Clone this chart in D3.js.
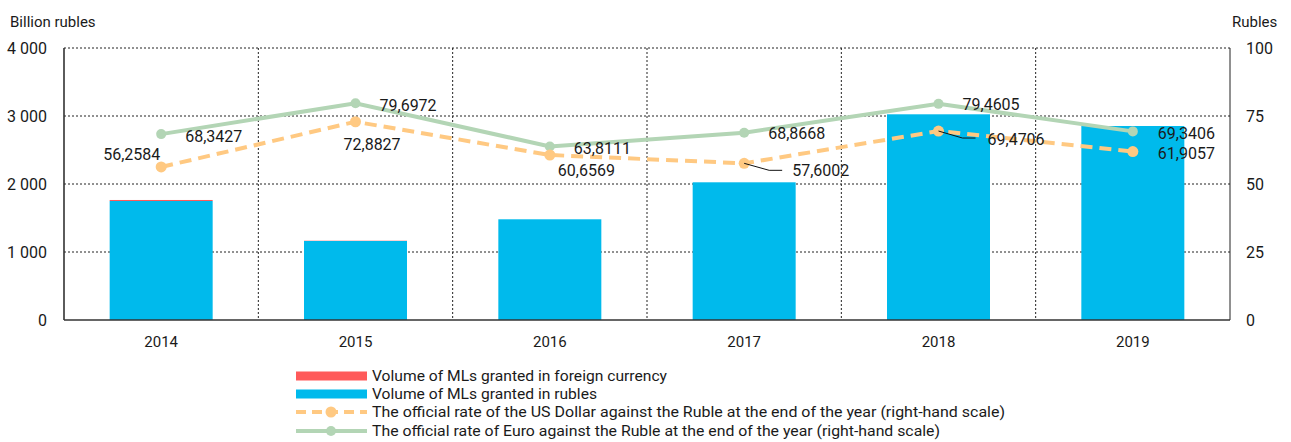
<!DOCTYPE html>
<html><head><meta charset="utf-8">
<script src="https://cdn.jsdelivr.net/npm/d3@7"></script>
<style>
body{margin:0;background:#fff;}
text{font-family:Roboto,"Noto Sans",sans-serif;fill:#1a1a1a;}
</style></head>
<body><svg id="c" width="1291" height="442"></svg>
<script>
const years = ["2014","2015","2016","2017","2018","2019"];
const rublesVol = [1750, 1162, 1481, 2025, 3025, 2853];
const foreignVol = [15, 4, 0, 0, 0, 0];
const usdRate = [56.2584, 72.8827, 60.6569, 57.6002, 69.4706, 61.9057];
const eurRate = [68.3427, 79.6972, 63.8111, 68.8668, 79.4605, 69.3406];
const usdLabels = ["56,2584","72,8827","60,6569","57,6002","69,4706","61,9057"];
const eurLabels = ["68,3427","79,6972","63,8111","68,8668","79,4605","69,3406"];
const leftTicks = [0,1000,2000,3000,4000];
const rightTicks = [0,25,50,75,100];
const legendItems = [
  "Volume of MLs granted in foreign currency",
  "Volume of MLs granted in rubles",
  "The official rate of  the US Dollar against the Ruble at the end of the year (right-hand scale)",
  "The official rate of Euro against the Ruble at the end of the year (right-hand scale)"
];

const C = {blue:"#00BAEC", red:"#FF5A5A", orange:"#FFC982", green:"#B3D5B5"};
const svg = d3.select("#c");
const L=64, R=1230, T=48, B=320;
const x = d3.scaleBand().domain(years).range([L,R]).paddingInner(0.47).paddingOuter(0.235);
const xb = d3.scaleBand().domain(years).range([L,R]);
const y = d3.scaleLinear().domain([0,4000]).range([B,T]);
const y2 = d3.scaleLinear().domain([0,100]).range([B,T]);

// grid
const g = svg.append("g");
g.selectAll("line.h").data(leftTicks.filter(d=>d>0)).join("line")
  .attr("x1",L).attr("x2",R).attr("y1",d=>y(d)).attr("y2",d=>y(d))
  .attr("stroke","#222").attr("stroke-width",1).attr("stroke-dasharray","2,2");
g.selectAll("line.v").data(years.slice(1)).join("line")
  .attr("x1",d=>xb(d)).attr("x2",d=>xb(d)).attr("y1",T).attr("y2",B)
  .attr("stroke","#222").attr("stroke-width",1).attr("stroke-dasharray","2,2");

// bars
svg.append("g").selectAll("rect").data(years).join("rect")
  .attr("x",d=>x(d)).attr("width",x.bandwidth())
  .attr("y",(d,i)=>y(rublesVol[i])).attr("height",(d,i)=>B-y(rublesVol[i]))
  .attr("fill",C.blue);
svg.append("g").selectAll("rect").data(years).join("rect")
  .attr("x",d=>x(d)).attr("width",x.bandwidth())
  .attr("y",(d,i)=>y(rublesVol[i]+foreignVol[i])).attr("height",(d,i)=>y(rublesVol[i])-y(rublesVol[i]+foreignVol[i]))
  .attr("fill",C.red);

// axes lines
svg.append("line").attr("x1",L).attr("x2",L).attr("y1",T).attr("y2",B).attr("stroke","#333").attr("stroke-width",1.6);
svg.append("line").attr("x1",R).attr("x2",R).attr("y1",T).attr("y2",B).attr("stroke","#222").attr("stroke-width",1);
svg.append("line").attr("x1",L).attr("x2",R).attr("y1",B).attr("y2",B).attr("stroke","#333").attr("stroke-width",1.6);

// axes via d3
const ax = svg.append("g").attr("transform",`translate(${L-17},0)`)
  .call(d3.axisLeft(y).tickValues(leftTicks).tickSize(0).tickFormat(d=>d3.format(",")(d).replace(",", " ")));
const ax2 = svg.append("g").attr("transform",`translate(${R+16},0)`)
  .call(d3.axisRight(y2).tickValues(rightTicks).tickSize(0));
const axb = svg.append("g").attr("transform",`translate(0,${B+22})`)
  .call(d3.axisBottom(xb).tickSize(0));
[ax,ax2,axb].forEach(a=>{a.select(".domain").remove(); a.selectAll("text").attr("font-size",16).attr("fill","#1a1a1a").style("font-family",'Roboto,"Noto Sans",sans-serif');});
ax.selectAll("text").attr("x",0);
ax2.selectAll("text").attr("x",0);
axb.selectAll("text").attr("dy","0.35em").attr("y",0).attr("font-size",15);

svg.append("text").attr("x",10).attr("y",27).attr("font-size",15).text("Billion rubles");
svg.append("text").attr("x",1232).attr("y",27).attr("font-size",15).text("Rubles");

// lines
const cx = d=>xb(d)+xb.bandwidth()/2;
const line = d3.line().x(d=>cx(d.k)).y(d=>y2(d.v));
const eurData = years.map((k,i)=>({k,v:eurRate[i]}));
const usdData = years.map((k,i)=>({k,v:usdRate[i]}));
svg.append("path").datum(eurData).attr("d",line).attr("fill","none").attr("stroke",C.green).attr("stroke-width",4);
svg.append("g").selectAll("circle").data(eurData).join("circle").attr("cx",d=>cx(d.k)).attr("cy",d=>y2(d.v)).attr("r",5).attr("fill",C.green);
svg.append("path").datum(usdData).attr("d",line).attr("fill","none").attr("stroke",C.orange).attr("stroke-width",4).attr("stroke-dasharray","12,7");
svg.append("g").selectAll("circle").data(usdData).join("circle").attr("cx",d=>cx(d.k)).attr("cy",d=>y2(d.v)).attr("r",5.5).attr("fill",C.orange);

// labels: offsets relative to point (dx, dy to text center)
const eurOff = [[24,2],[24,2],[24,2],[24,1],[24,1],[25,2]];
const usdOff = [[-58,-13],[-12,23],[8,15],[48,7],[49,8],[25,2]];
const lab = svg.append("g");
years.forEach((k,i)=>{
  lab.append("text").attr("x",cx(k)+eurOff[i][0]).attr("y",y2(eurRate[i])+eurOff[i][1]).attr("dy","0.35em").attr("font-size",16).text(eurLabels[i]);
  lab.append("text").attr("x",cx(k)+usdOff[i][0]).attr("y",y2(usdRate[i])+usdOff[i][1]).attr("dy","0.35em").attr("font-size",16).text(usdLabels[i]);
});
// leader lines
[[3,[[0,0],[25,7],[38,7]]],[4,[[0,0],[24,7],[37,7]]]].forEach(([i,pts])=>{
  const k=years[i];
  svg.append("path").attr("d",d3.line()(pts.map(p=>[cx(k)+p[0],y2(usdRate[i])+p[1]]))).attr("fill","none").attr("stroke","#111").attr("stroke-width",1);
});

// legend
const lg = svg.append("g");
const ly = [376,394,412,431];
const lx = 296;
lg.append("rect").attr("x",lx).attr("y",ly[0]-4.5).attr("width",71).attr("height",9).attr("fill",C.red);
lg.append("rect").attr("x",lx).attr("y",ly[1]-4.5).attr("width",71).attr("height",9).attr("fill",C.blue);
lg.append("line").attr("x1",lx).attr("x2",lx+71).attr("y1",ly[2]).attr("y2",ly[2]).attr("stroke",C.orange).attr("stroke-width",4).attr("stroke-dasharray","10,6");
lg.append("circle").attr("cx",lx+35).attr("cy",ly[2]).attr("r",5.5).attr("fill",C.orange);
lg.append("line").attr("x1",lx).attr("x2",lx+71).attr("y1",ly[3]).attr("y2",ly[3]).attr("stroke",C.green).attr("stroke-width",4);
lg.append("circle").attr("cx",lx+35).attr("cy",ly[3]).attr("r",5).attr("fill",C.green);
const widths=[295,225,633,568];
legendItems.forEach((t,i)=>{
  lg.append("text").attr("x",372).attr("y",ly[i]).attr("dy","0.35em").attr("font-size",15)
    .attr("textLength",widths[i]).attr("lengthAdjust","spacingAndGlyphs").text(t);
});
</script></body></html>
